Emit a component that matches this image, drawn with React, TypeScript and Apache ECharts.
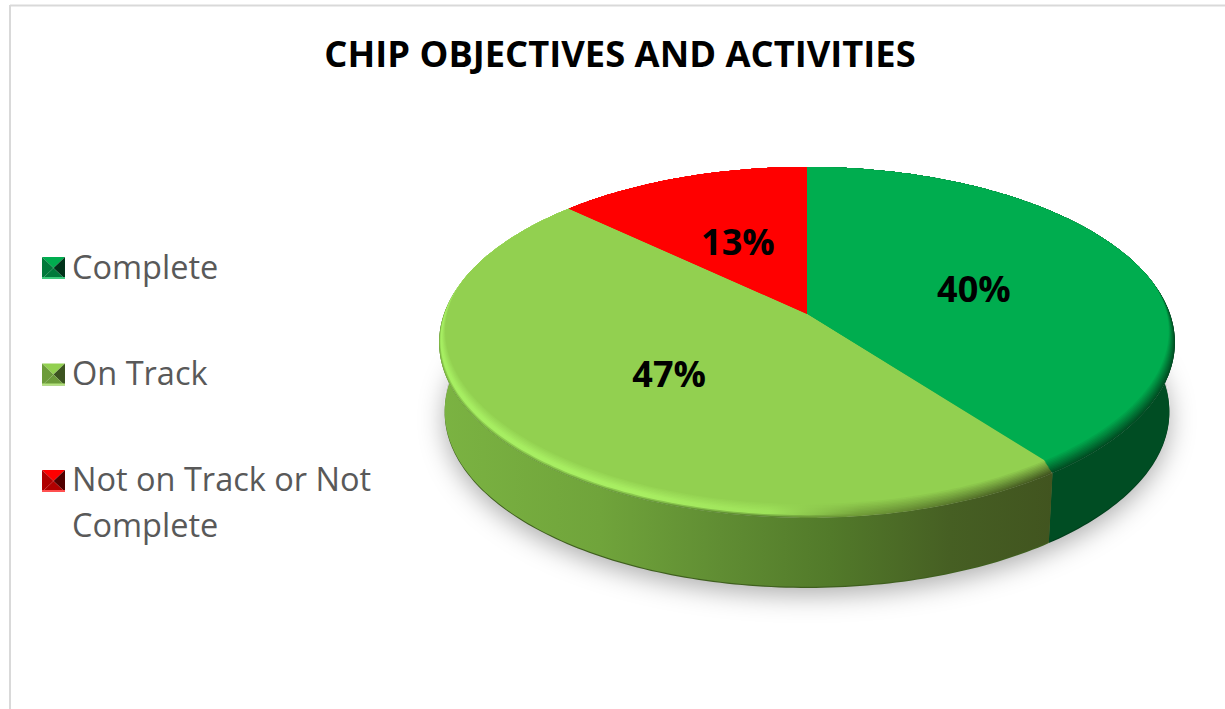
import React, { useEffect, useRef } from "react";
import * as echarts from "echarts";

const titleText = "CHIP OBJECTIVES AND ACTIVITIES";
const categories = ["Complete", "On Track", "Not on Track or Not Complete"];
const values = [40, 47, 13];
const faceColors = ["#00AD4F", "#92D050", "#FF0000"];
const iconLight = ["#3CCB7C", "#B4E27E", "#FF5050"];
const iconMid = ["#00793A", "#6C9B3A", "#B00000"];
const iconDark = ["#00331A", "#3C5420", "#500000"];
const labelNudge = [-1.5, 6, -2];
const FONT = '"Open Sans", sans-serif';

// Tilted-disc projection parameters
const CX = 807, CY = 314, A = 363, B = 170.9, K = 0.162;
const DEPTH = 70, BOTTOM_SCALE = 0.985, BEVEL = 14;
const total = values.reduce((s, v) => s + v, 0);

type P = [number, number];
const project = (deg: number, r = 1): P => {
  const t = (deg * Math.PI) / 180;
  const X = Math.sin(t) * r, Y = Math.cos(t) * r;
  const d = 1 + K * Y;
  return [CX + (A * X) / d, CY - (B * Y) / d];
};
const front = (deg: number) => {
  const Y = Math.cos((deg * Math.PI) / 180);
  return Math.pow(Math.max(0, (0.25 - Y) / 1.25), 0.65);
};
const rimPoint = (deg: number, w: number): P => {
  const [x, y] = project(deg);
  const f = front(deg);
  return [CX + (x - CX) * (1 - 0.035 * (1 - w) * f), y - BEVEL * (1 - w) * f];
};
const hex = (c: string) => [1, 3, 5].map((i) => parseInt(c.slice(i, i + 2), 16));
const toHex = (rgb: number[]) =>
  "#" + rgb.map((v) => Math.round(v).toString(16).padStart(2, "0")).join("");
const mix = (a: string, b: string, w: number) => {
  const pa = hex(a), pb = hex(b), u = Math.min(1, Math.max(0, w));
  return toHex(pa.map((v, i) => v + (pb[i] - v) * u));
};
const grad = (stops: [number, string][]) => {
  const x0 = 435, x1 = 1180;
  return new echarts.graphic.LinearGradient(
    x0, 0, x1, 0,
    stops.map(([x, color]) => ({ offset: (x - x0) / (x1 - x0), color })),
    true as any
  );
};

const sideFill = (i: number) =>
  i === 1
    ? grad([[440, "#7BB342"], [600, "#70A43B"], [720, "#608D33"], [830, "#527A2A"], [950, "#465F23"], [1055, "#41541F"]])
    : i === 0
    ? "#004D23"
    : "#800000";

const layerFill = (i: number, w: number) => {
  const face = faceColors[i];
  if (w === 0) return face;
  if (i === 1) {
    const h = Math.min(1, w * 1.6);
    const edge = w > 0.8 ? (w - 0.8) / 0.2 : 0;
    return grad([
      [440, mix(mix(face, "#A6EE62", h), "#7BB342", edge)],
      [640, mix(mix(face, "#A8EE62", h), "#6CA03A", edge)],
      [770, mix(mix(face, "#9EE25A", h), "#5E8A32", edge)],
      [860, mix(face, "#6F9A38", w)],
      [1055, mix(face, "#41541F", w)],
    ]);
  }
  if (i === 0) return mix(face, "#004D23", w);
  return face;
};

const makeRenderItem = (i: number) => (_params: any, api: any) => {
  const start = (values.slice(0, i).reduce((s, v) => s + v, 0) / total) * 360;
  const sweep = (api.value(0) / total) * 360;
  const arc: number[] = [];
  for (let k = 0; k <= Math.ceil(sweep); k++) arc.push(start + (sweep * k) / Math.ceil(sweep));
  const children: any[] = [];

  // soft cast shadow
  if (i === 1) {
    const pts: P[] = [];
    for (let d = 0; d < 360; d += 2) {
      const [x, y] = project(d);
      pts.push([CX + (x - CX) * 0.985, y + DEPTH - 6]);
    }
    children.push({
      type: "polygon", z2: 1, shape: { points: pts },
      style: { fill: "#d0d0d0", shadowBlur: 26, shadowColor: "rgba(0,0,0,0.32)", shadowOffsetY: 13 },
    });
  }

  // side wall
  const wall = (dy: number, z2: number, fill: any) => {
    const topEdge = arc.map((d) => project(d));
    const botEdge = arc.map((d) => {
      const [x, y] = project(d);
      return [CX + (x - CX) * BOTTOM_SCALE, y + dy] as P;
    }).reverse();
    children.push({ type: "polygon", z2, shape: { points: [...topEdge, ...botEdge] }, style: { fill } });
  };
  if (i === 1) wall(DEPTH, 2, "#3F5F1E");
  if (i === 0) wall(DEPTH, 2, "#003F1C");
  wall(DEPTH - 1.2, 3, sideFill(i));

  // bevel layers, then flat top face
  const N = 10;
  for (let l = N; l >= 0; l--) {
    const w = l / N;
    const rim = arc.map((d) => rimPoint(d, w));
    children.push({
      type: "polygon", z2: 10 + (N - l),
      shape: { points: [[CX, CY], ...rim] },
      style: { fill: layerFill(i, w) },
    });
  }

  // percentage label
  const [lx, ly] = project(start + sweep / 2, 0.5);
  children.push({
    type: "text", z2: 60, x: lx + labelNudge[i], y: ly,
    style: {
      text: `${Math.round((api.value(0) / total) * 100)}%`,
      fill: "#000", font: `bold 36px ${FONT}`, align: "center", verticalAlign: "middle",
    },
  });
  return { type: "group", children };
};

const iconTops = [257, 363.5, 470];
const iconGraphics = categories.flatMap((_, i) => {
  const x0 = 42, x1 = 65, y0 = iconTops[i], y1 = y0 + 22;
  const c = [(x0 + x1) / 2, (y0 + y1) / 2];
  const tri = (pts: number[][], fill: string) => ({
    type: "polygon", z: 20, shape: { points: pts }, style: { fill },
  });
  return [
    tri([[x0, y0], [x1, y0], c], faceColors[i]),
    tri([[x0, y0], [x0, y1], c], iconMid[i]),
    tri([[x1, y0], [x1, y1], c], iconDark[i]),
    tri([[x0, y1], [x1, y1], c], iconMid[i]),
    { type: "rect", z: 21, shape: { x: x0, y: y1 - 2, width: x1 - x0, height: 2 }, style: { fill: iconLight[i] } },
  ];
});

export default function App() {
  const ref = useRef<HTMLDivElement>(null);
  useEffect(() => {
    const chart = echarts.init(ref.current!, null, { renderer: "svg" });
    chart.setOption({
      animation: false,
      backgroundColor: "#fff",
      title: {
        text: titleText, left: 615, top: 30, textAlign: "center",
        textStyle: { fontFamily: FONT, fontSize: 36.3, fontWeight: "bold", color: "#000" },
      },
      legend: {
        orient: "vertical", left: 38, top: 238, itemWidth: 24, itemHeight: 22, itemGap: 60,
        icon: "rect", selectedMode: false,
        data: categories.map((name) => ({ name, itemStyle: { opacity: 0 } })),
        formatter: (n: string) => n.replace(" or Not Complete", " or Not\nComplete"),
        textStyle: { fontFamily: FONT, fontSize: 32.5, color: "#595959", lineHeight: 46 },
      },
      graphic: [
        { type: "line", z: 20, shape: { x1: 10, y1: 5.5, x2: 1225, y2: 5.5 }, style: { stroke: "#D9D9D9", lineWidth: 2 } },
        { type: "line", z: 20, shape: { x1: 10, y1: 5, x2: 10, y2: 709 }, style: { stroke: "#D9D9D9", lineWidth: 2 } },
        ...iconGraphics,
      ],
      series: categories.map((name, i) => ({
        type: "custom", name, coordinateSystem: "none", silent: true,
        itemStyle: { color: faceColors[i] },
        data: [[values[i]]],
        renderItem: makeRenderItem(i),
      })),
    });
    return () => chart.dispose();
  }, []);
  return <div ref={ref} style={{ position: "fixed", left: 0, top: 0, width: 1225, height: 709 }} />;
}
